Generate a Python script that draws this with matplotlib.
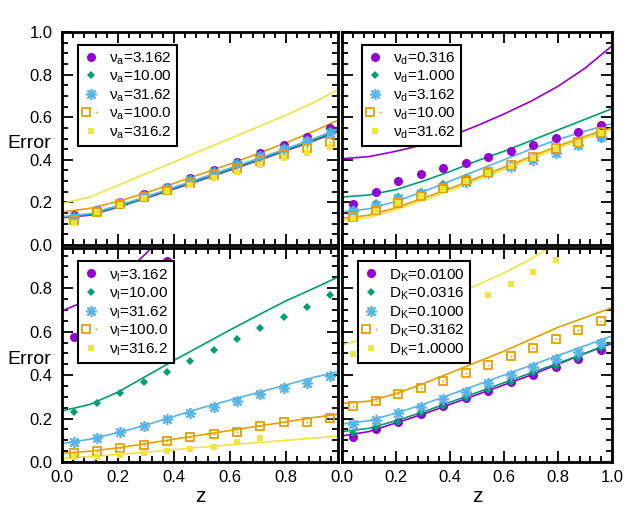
import numpy as np
import matplotlib
matplotlib.use("Agg")
import matplotlib.pyplot as plt
from matplotlib.ticker import MultipleLocator
from matplotlib.legend_handler import HandlerTuple

plt.rcParams['font.family'] = ['Liberation Sans', 'DejaVu Sans']
plt.rcParams['mathtext.fontset'] = 'custom'
plt.rcParams['mathtext.rm'] = 'Liberation Sans'

colors = ["#9400d3", "#009e73", "#56b4e9", "#e69f00", "#f0e442"]

# z positions of the simulation points and of the theory curves
z_pts = [0.042, 0.125, 0.208, 0.292, 0.375, 0.458, 0.542, 0.625, 0.708, 0.792, 0.875, 0.958]
z_line = [0.0, 0.1, 0.2, 0.3, 0.4, 0.5, 0.6, 0.7, 0.8, 0.9, 1.0]

# legend labels
lab_a = ["3.162", "10.00", "31.62", "100.0", "316.2"]
lab_d = ["0.316", "1.000", "3.162", "10.00", "31.62"]
lab_l = ["3.162", "10.00", "31.62", "100.0", "316.2"]
lab_k = ["0.0100", "0.0316", "0.1000", "0.3162", "1.0000"]

# panel a (top left)
pts_a = [
    [0.141, 0.165, 0.203, 0.239, 0.274, 0.313, 0.352, 0.391, 0.430, 0.469, 0.508, 0.548],
    [0.136, 0.163, 0.200, 0.236, 0.271, 0.309, 0.348, 0.386, 0.424, 0.462, 0.500, 0.538],
    [0.133, 0.160, 0.197, 0.232, 0.267, 0.304, 0.342, 0.379, 0.416, 0.453, 0.490, 0.525],
    [0.117, 0.157, 0.192, 0.226, 0.260, 0.293, 0.327, 0.361, 0.395, 0.428, 0.456, 0.485],
    [0.105, 0.153, 0.188, 0.219, 0.252, 0.282, 0.313, 0.344, 0.376, 0.407, 0.433, 0.459],
]
line_a = [
    [0.128, 0.140, 0.178, 0.220, 0.263, 0.307, 0.352, 0.397, 0.443, 0.490, 0.540],
    [0.130, 0.143, 0.180, 0.222, 0.266, 0.310, 0.355, 0.400, 0.446, 0.494, 0.545],
    [0.133, 0.147, 0.185, 0.227, 0.271, 0.316, 0.361, 0.406, 0.452, 0.500, 0.552],
    [0.155, 0.172, 0.205, 0.245, 0.290, 0.335, 0.380, 0.430, 0.480, 0.535, 0.595],
    [0.195, 0.225, 0.280, 0.335, 0.390, 0.445, 0.500, 0.555, 0.610, 0.670, 0.740],
]

# panel d (top right)
pts_d = [
    [0.191, 0.250, 0.300, 0.332, 0.360, 0.386, 0.412, 0.443, 0.469, 0.501, 0.532, 0.563],
    [0.170, 0.199, 0.227, 0.250, 0.285, 0.313, 0.344, 0.376, 0.407, 0.435, 0.469, 0.500],
    [0.160, 0.188, 0.219, 0.243, 0.274, 0.297, 0.337, 0.365, 0.399, 0.433, 0.469, 0.506],
    [0.130, 0.164, 0.199, 0.232, 0.266, 0.305, 0.344, 0.376, 0.415, 0.454, 0.485, 0.532],
    [0.125, 0.160, 0.195, 0.228, 0.262, 0.300, 0.340, 0.372, 0.410, 0.450, 0.480, 0.525],
]
line_d = [
    [0.405, 0.415, 0.440, 0.470, 0.510, 0.560, 0.615, 0.675, 0.745, 0.830, 0.935],
    [0.225, 0.235, 0.260, 0.300, 0.345, 0.395, 0.440, 0.490, 0.540, 0.590, 0.640],
    [0.155, 0.170, 0.205, 0.250, 0.300, 0.350, 0.400, 0.450, 0.495, 0.535, 0.570],
    [0.125, 0.140, 0.175, 0.220, 0.265, 0.315, 0.365, 0.415, 0.465, 0.510, 0.550],
    [0.115, 0.130, 0.165, 0.210, 0.255, 0.305, 0.355, 0.405, 0.455, 0.500, 0.540],
]

# panel l (bottom left)
pts_l = [
    [0.575, 0.660, 0.740, 0.830, 0.926, 1.020, 1.120, 1.220, 1.320, 1.420, 1.520, 1.620],
    [0.228, 0.270, 0.319, 0.369, 0.415, 0.466, 0.515, 0.566, 0.615, 0.668, 0.714, 0.768],
    [0.090, 0.109, 0.137, 0.166, 0.196, 0.227, 0.251, 0.280, 0.313, 0.339, 0.365, 0.397],
    [0.040, 0.051, 0.063, 0.078, 0.097, 0.113, 0.127, 0.139, 0.167, 0.182, 0.182, 0.201],
    [0.022, 0.024, 0.032, 0.043, 0.052, 0.060, 0.070, 0.090, 0.109, np.nan, np.nan, np.nan],
]
line_l = [
    [0.695, 0.750, 0.840, 0.960, 1.100, 1.250, 1.400, 1.550, 1.700, 1.850, 2.000],
    [0.235, 0.265, 0.322, 0.395, 0.468, 0.538, 0.608, 0.676, 0.742, 0.800, 0.860],
    [0.085, 0.105, 0.135, 0.170, 0.210, 0.250, 0.285, 0.320, 0.355, 0.390, 0.420],
    [0.040, 0.050, 0.065, 0.085, 0.105, 0.125, 0.145, 0.165, 0.185, 0.205, 0.222],
    [0.015, 0.025, 0.035, 0.045, 0.057, 0.068, 0.079, 0.090, 0.100, 0.110, 0.121],
]

# panel K (bottom right)
pts_k = [
    [0.116, 0.152, 0.185, 0.221, 0.257, 0.293, 0.328, 0.366, 0.400, 0.435, 0.474, 0.515],
    [0.135, 0.160, 0.185, 0.224, 0.259, 0.296, 0.331, 0.369, 0.408, 0.441, 0.477, 0.523],
    [0.175, 0.193, 0.224, 0.254, 0.288, 0.323, 0.362, 0.400, 0.438, 0.474, 0.507, 0.546],
    [0.259, 0.282, 0.311, 0.342, 0.374, 0.411, 0.446, 0.487, 0.527, 0.566, 0.607, 0.650],
    [0.497, 0.540, 0.585, 0.630, 0.670, 0.714, 0.768, 0.818, 0.875, 0.929, 1.000, 1.060],
]
line_k = [
    [0.120, 0.140, 0.180, 0.220, 0.265, 0.310, 0.355, 0.400, 0.450, 0.500, 0.545],
    [0.140, 0.155, 0.190, 0.230, 0.275, 0.320, 0.365, 0.410, 0.455, 0.500, 0.550],
    [0.175, 0.190, 0.225, 0.265, 0.310, 0.355, 0.400, 0.445, 0.490, 0.535, 0.580],
    [0.270, 0.280, 0.315, 0.360, 0.410, 0.460, 0.510, 0.565, 0.620, 0.665, 0.710],
    [0.540, 0.570, 0.620, 0.685, 0.755, 0.815, 0.870, 0.935, 1.010, 1.090, 1.170],
]

fig = plt.figure(figsize=(6.25, 5.25), dpi=100)
W, H = 625, 525


def px_axes(x0, x1, y0, y1):
    return fig.add_axes([x0 / W, 1 - y1 / H, (x1 - x0) / W, (y1 - y0) / H])


ax_a = px_axes(62, 338, 32, 245)
ax_d = px_axes(342, 612, 32, 245)
ax_l = px_axes(62, 338, 248, 462)
ax_k = px_axes(342, 612, 248, 462)

panels = [
    (ax_a, pts_a, line_a, r"ν$_\mathrm{a}$=", lab_a, (0.058, 0.94)),
    (ax_d, pts_d, line_d, r"ν$_\mathrm{d}$=", lab_d, (0.073, 0.94)),
    (ax_l, pts_l, line_l, r"ν$_\mathrm{l}$=", lab_l, (0.058, 0.937)),
    (ax_k, pts_k, line_k, r"D$_\mathrm{K}$=", lab_k, (0.059, 0.937)),
]

for ax, pts, lines, prefix, labs, anchor in panels:
    handles = []
    for i in range(5):
        c = colors[i]
        ax.plot(z_line, lines[i], color=c, lw=1.2, zorder=2)
    for i in range(5):
        c = colors[i]
        if i == 0:
            h, = ax.plot(z_pts, pts[i], "o", color=c, ms=6.5, mew=0, zorder=3)
        elif i == 1:
            h, = ax.plot(z_pts, pts[i], "D", color=c, ms=4.5, mew=0, zorder=3)
        elif i == 2:
            h, = ax.plot(z_pts, pts[i], marker=(8, 2, 0), ls="none", color=c, ms=8, mew=1.2, zorder=3)
        elif i == 3:
            sq, = ax.plot(z_pts, pts[i], "s", color=c, mfc="none", ms=6, mew=1.3, zorder=3)
            dot, = ax.plot(z_pts, pts[i], "s", color=c, ms=1.2, mew=0, zorder=3)
            h = (sq, dot)
        else:
            h, = ax.plot(z_pts, pts[i], "s", color=c, ms=5, mew=0, zorder=3)
        handles.append(h)
    leg = ax.legend(handles, [prefix + s for s in labs], loc="upper left",
                    bbox_to_anchor=anchor, borderaxespad=0, fontsize=11,
                    fancybox=False, framealpha=1, edgecolor="black",
                    handlelength=1.0, handletextpad=0.7, labelspacing=0.12,
                    borderpad=0.35, handler_map={tuple: HandlerTuple(ndivide=None)})
    leg.get_frame().set_linewidth(1.5)
    leg.set_zorder(5)

    ax.xaxis.set_major_locator(MultipleLocator(0.2))
    ax.xaxis.set_minor_locator(MultipleLocator(0.04))
    ax.yaxis.set_major_locator(MultipleLocator(0.2))
    ax.yaxis.set_minor_locator(MultipleLocator(0.05))
    ax.tick_params(which="both", direction="in", top=True, right=True, width=1.3,
                   labelsize=12)
    ax.tick_params(which="major", length=8)
    ax.tick_params(which="minor", length=4)
    ax.tick_params(axis="x", pad=6)
    ax.tick_params(axis="y", pad=7)
    for sp in ax.spines.values():
        sp.set_linewidth(2)

ax_a.set_xlim(0, 0.985)
ax_l.set_xlim(0, 0.985)
ax_d.set_xlim(0, 1.0)
ax_k.set_xlim(0, 1.0)
ax_a.set_ylim(0, 1.0)
ax_d.set_ylim(0, 1.0)
ax_l.set_ylim(0, 0.985)
ax_k.set_ylim(0, 0.985)

ax_a.tick_params(labelbottom=False)
ax_d.tick_params(labelbottom=False, labelleft=False)
ax_k.tick_params(labelleft=False)

ax_a.yaxis.set_major_formatter(plt.FormatStrFormatter("%.1f"))
ax_l.yaxis.set_major_formatter(plt.FormatStrFormatter("%.1f"))
ax_l.xaxis.set_major_formatter(plt.FormatStrFormatter("%.1f"))
ax_k.xaxis.set_major_formatter(plt.FormatStrFormatter("%.1f"))

fig.text(29 / W, 1 - 144 / H, "Error", ha="center", va="center", fontsize=14)
fig.text(29 / W, 1 - 359 / H, "Error", ha="center", va="center", fontsize=14)
fig.text(200 / W, 1 - 497 / H, "z", ha="center", va="center", fontsize=15)
fig.text(477 / W, 1 - 497 / H, "z", ha="center", va="center", fontsize=15)

fig.savefig("out.png", dpi=100)
